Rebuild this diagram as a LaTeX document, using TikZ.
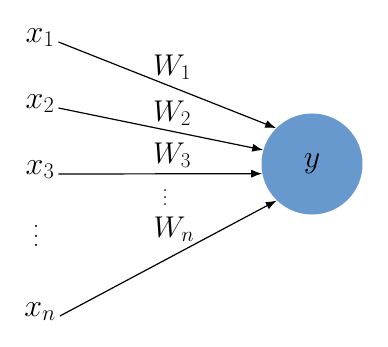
\RequirePackage{fix-cm}
\documentclass[tikz,border=0pt]{standalone}
\usepackage{amsmath,amssymb}
\usetikzlibrary{arrows.meta}
\definecolor{neuronblue}{RGB}{103,153,207}
% vertical dots with a chosen spacing
\newcommand{\stackdots}[1]{\vbox{\baselineskip#1\lineskiplimit0pt\hbox{.}\hbox{.}\hbox{.}}}

\begin{document}
\begin{tikzpicture}[x=1pt,y=-1pt,>={Latex[length=11pt,width=8pt]},
  inlabel/.style={anchor=base,inner sep=4pt,font=\fontsize{32}{38}\selectfont},
  wlabel/.style={inner sep=0pt,font=\fontsize{30}{36}\selectfont},
  dotlabel/.style={inner sep=0pt,font=\fontsize{26}{30}\selectfont},
  edge/.style={->,line width=1.2pt}]
  \useasboundingbox (0,0) rectangle (388,346);
  % Output neuron
  \node[circle,fill=neuronblue,minimum size=101pt,inner sep=0pt,font=\fontsize{32}{38}\selectfont] (y) at (312,164) {$y$};
  % Inputs on the left
  \node[inlabel] (x1) at (40,42) {$x_1$};
  \node[inlabel] (x2) at (40,108) {$x_2$};
  \node[inlabel] (x3) at (40,174) {$x_3$};
  \node[dotlabel] (xd) at (36,236) {\stackdots{9.5pt}};
  \node[inlabel] (xn) at (40,316) {$x_n$};
  % Weights
  \node[wlabel] (w1) at (172,67) {$W_1$};
  \node[wlabel] (w2) at (172,113) {$W_2$};
  \node[wlabel] (w3) at (172,155) {$W_3$};
  \node[dotlabel,font=\fontsize{22}{26}\selectfont] (wd) at (165,198) {\stackdots{7pt}};
  \node[wlabel] (wn) at (174,229) {$W_n$};
  % Connections into the neuron
  \foreach \i/\a in {1/135,2/164,3/191,n/226}{
    \draw[edge] (x\i.base east) -- (y.\a);
  }
\end{tikzpicture}
\end{document}
